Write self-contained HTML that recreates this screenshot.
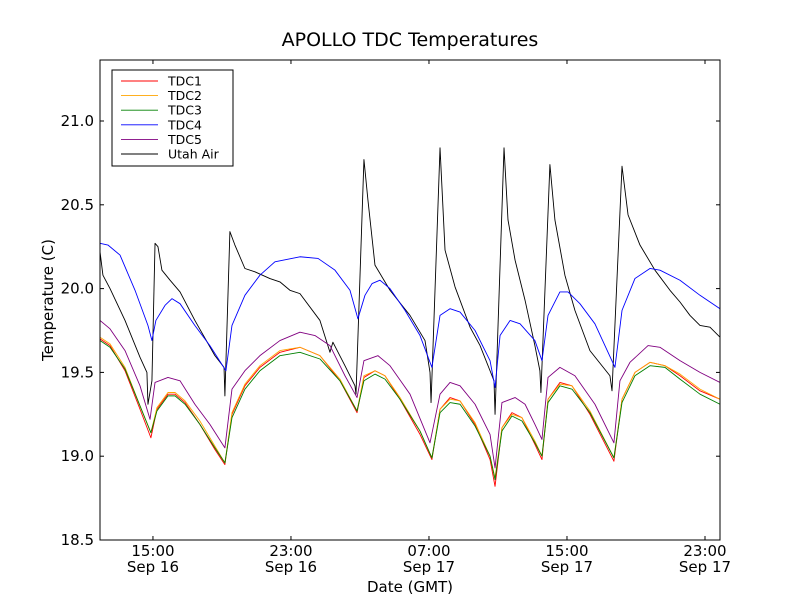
<!DOCTYPE html>
<html><head><meta charset="utf-8"><style>
html,body{margin:0;padding:0;background:#fff;}
svg{display:block;font-family:"DejaVu Sans","Liberation Sans",sans-serif;}
</style></head><body>
<svg id="chart" width="800" height="600" viewBox="0 0 800 600">
<rect x="0" y="0" width="800" height="600" fill="#fff"/>
<text x="410" y="46" text-anchor="middle" font-size="19">APOLLO TDC Temperatures</text>
<g id="series"></g>
<rect x="100" y="60" width="620" height="480" fill="none" stroke="#000" stroke-width="1"/>
<g id="axes"></g>
<text x="410" y="592" text-anchor="middle" font-size="15">Date (GMT)</text>
<text transform="translate(53,300) rotate(-90)" text-anchor="middle" font-size="15">Temperature (C)</text>
<g id="legend"></g>
</svg>
<script>
// time in hours from Sep 16 00:00 GMT
const xDomain = [11.93, 47.87];
const yDomain = [18.5, 21.364];
const yTicks = [18.5, 19.0, 19.5, 20.0, 20.5, 21.0];
const yTickLabels = ["18.5", "19.0", "19.5", "20.0", "20.5", "21.0"];
const xTicks = [15, 23, 31, 39, 47];
const xTickTimes = ["15:00", "23:00", "07:00", "15:00", "23:00"];
const xTickDates = ["Sep 16", "Sep 16", "Sep 17", "Sep 17", "Sep 17"];
const seriesNames = ["TDC1", "TDC2", "TDC3", "TDC4", "TDC5", "Utah Air"];
const seriesColors = ["#ff0000", "#ffa500", "#008000", "#0000ff", "#800080", "#000000"];

const tdcTimes = [11.93,12.51,13.38,14.25,14.88,15.23,15.87,16.28,16.86,17.72,18.59,19.17,19.58,20.33,21.20,22.36,23.52,24.68,25.84,26.83,27.23,27.87,28.45,29.32,30.48,31.17,31.64,32.22,32.80,33.67,34.54,34.83,35.23,35.81,36.39,37.14,37.55,37.90,38.59,39.29,40.33,41.72,42.19,42.94,43.81,44.68,45.55,46.71,47.87];
const tdc1Values = [19.70,19.66,19.51,19.28,19.11,19.28,19.37,19.37,19.32,19.19,19.04,18.95,19.25,19.42,19.53,19.62,19.65,19.60,19.45,19.26,19.47,19.51,19.48,19.34,19.13,18.98,19.28,19.35,19.33,19.19,18.98,18.82,19.17,19.26,19.23,19.07,18.98,19.34,19.44,19.42,19.25,18.97,19.34,19.50,19.56,19.54,19.48,19.39,19.34];
const tdc2Values = [19.71,19.67,19.53,19.30,19.14,19.29,19.38,19.38,19.33,19.21,19.06,18.96,19.26,19.43,19.54,19.63,19.65,19.60,19.46,19.27,19.48,19.51,19.48,19.35,19.15,18.99,19.28,19.34,19.33,19.20,19.00,18.87,19.17,19.25,19.23,19.09,19.00,19.34,19.43,19.42,19.27,18.99,19.34,19.50,19.56,19.54,19.49,19.40,19.34];
const tdc3Values = [19.69,19.65,19.52,19.30,19.14,19.27,19.36,19.36,19.31,19.19,19.05,18.96,19.23,19.40,19.51,19.60,19.62,19.58,19.45,19.27,19.45,19.49,19.46,19.34,19.15,18.99,19.26,19.32,19.31,19.18,19.00,18.86,19.15,19.24,19.21,19.08,19.00,19.32,19.42,19.40,19.26,18.99,19.32,19.48,19.54,19.53,19.46,19.37,19.31];

const tdc4Times = [11.93,12.39,13.09,13.96,14.71,14.94,15.17,15.70,16.10,16.57,17.43,18.30,19.23,19.58,20.33,21.20,22.07,23.52,24.57,25.55,26.42,26.88,27.29,27.70,28.16,28.74,29.61,30.48,31.17,31.64,32.22,32.80,33.67,34.54,34.83,35.12,35.70,36.28,37.14,37.55,37.90,38.59,39.06,39.75,40.62,41.78,42.19,42.94,43.81,44.39,45.55,46.71,47.87];
const tdc4Values = [20.27,20.26,20.20,19.99,19.78,19.69,19.81,19.90,19.94,19.91,19.78,19.66,19.51,19.78,19.96,20.08,20.16,20.19,20.18,20.11,19.99,19.82,19.96,20.03,20.05,20.00,19.87,19.72,19.53,19.84,19.88,19.86,19.75,19.57,19.41,19.72,19.81,19.79,19.69,19.57,19.84,19.98,19.98,19.91,19.79,19.53,19.87,20.06,20.12,20.11,20.05,19.96,19.88];

const tdc5Times = [11.93,12.51,13.38,14.25,14.83,15.12,15.87,16.57,17.43,18.30,19.17,19.58,20.33,21.20,22.36,23.52,24.39,25.26,26.13,26.83,27.23,28.04,28.74,29.90,31.06,31.64,32.22,32.80,33.67,34.54,34.83,35.23,35.99,36.57,37.14,37.55,37.90,38.59,39.46,40.62,41.72,42.07,42.65,43.70,44.39,45.55,46.71,47.87];
const tdc5Values = [19.81,19.76,19.63,19.42,19.22,19.44,19.47,19.45,19.31,19.19,19.05,19.40,19.51,19.60,19.69,19.74,19.72,19.66,19.48,19.35,19.57,19.60,19.54,19.37,19.08,19.37,19.44,19.42,19.31,19.13,18.93,19.32,19.35,19.31,19.19,19.10,19.47,19.53,19.48,19.31,19.08,19.45,19.56,19.66,19.65,19.57,19.50,19.44];

const airTimes = [11.93,12.10,12.51,13.38,14.25,14.65,14.71,14.94,15.12,15.29,15.52,15.99,16.57,17.43,18.59,19.12,19.17,19.46,19.75,20.33,20.91,21.78,22.36,22.94,23.52,24.68,25.26,25.43,26.13,26.71,26.77,27.23,27.46,27.87,28.74,29.90,30.77,31.06,31.12,31.64,31.93,32.51,33.38,33.96,34.54,34.77,34.83,35.35,35.58,35.99,36.57,37.14,37.43,37.49,38.01,38.30,38.88,39.46,40.33,41.49,41.61,42.19,42.54,43.23,44.10,44.97,45.55,46.13,46.71,47.29,47.87];
const airValues = [20.22,20.08,20.00,19.81,19.59,19.50,19.31,19.45,20.27,20.25,20.11,20.05,19.98,19.81,19.60,19.53,19.36,20.34,20.26,20.12,20.10,20.06,20.04,19.99,19.97,19.81,19.62,19.68,19.54,19.42,19.37,20.77,20.53,20.14,19.99,19.84,19.69,19.50,19.32,20.84,20.23,20.01,19.77,19.66,19.51,19.45,19.25,20.84,20.41,20.17,19.93,19.66,19.51,19.38,20.74,20.41,20.08,19.87,19.63,19.48,19.39,20.73,20.44,20.26,20.11,19.99,19.92,19.84,19.78,19.77,19.71];

const PL = 100, PR = 720, PT = 60, PB = 540;
function xs(t){ return PL + (t - xDomain[0]) / (xDomain[1] - xDomain[0]) * (PR - PL); }
function ys(v){ return PB - (v - yDomain[0]) / (yDomain[1] - yDomain[0]) * (PB - PT); }
const NS = "http://www.w3.org/2000/svg";
function mk(tag, attrs){ const e = document.createElementNS(NS, tag); for (const k in attrs) e.setAttribute(k, attrs[k]); return e; }

const seriesData = [[tdcTimes, tdc1Values],[tdcTimes, tdc2Values],[tdcTimes, tdc3Values],[tdc4Times, tdc4Values],[tdc5Times, tdc5Values],[airTimes, airValues]];
const sg = document.getElementById('series');
const drawOrder = [5, 3, 4, 0, 1, 2];
drawOrder.forEach(function(i){
  const t = seriesData[i][0], v = seriesData[i][1];
  const pts = t.map(function(tt, k){ return xs(tt).toFixed(2) + ',' + ys(v[k]).toFixed(2); }).join(' ');
  const pl = mk('polyline', {points: pts, fill: 'none', stroke: seriesColors[i], 'stroke-width': 0.9, 'stroke-linejoin': 'round'});
  
  
  sg.appendChild(pl);
});

const ag = document.getElementById('axes');
yTicks.forEach(function(v, i){
  const y = ys(v);
  const t1 = mk('line', {x1: PL, x2: PL + 4, y1: y, y2: y, stroke: '#000'});
  
  
  ag.appendChild(t1);
  const t2 = mk('line', {x1: PR - 4, x2: PR, y1: y, y2: y, stroke: '#000'});
  
  
  ag.appendChild(t2);
  const lb = mk('text', {x: 94, y: y + 5, 'text-anchor': 'end', 'font-size': 15});
  lb.textContent = yTickLabels[i];
  
  
  ag.appendChild(lb);
});
xTicks.forEach(function(t, i){
  const x = xs(t);
  const t1 = mk('line', {x1: x, x2: x, y1: PB, y2: PB - 4, stroke: '#000'});
  
  
  ag.appendChild(t1);
  const t2 = mk('line', {x1: x, x2: x, y1: PT, y2: PT + 4, stroke: '#000'});
  
  
  ag.appendChild(t2);
  const l1 = mk('text', {x: x, y: 556, 'text-anchor': 'middle', 'font-size': 15});
  l1.textContent = xTickTimes[i];
  
  
  ag.appendChild(l1);
  const l2 = mk('text', {x: x, y: 572, 'text-anchor': 'middle', 'font-size': 15});
  l2.textContent = xTickDates[i];
  
  
  ag.appendChild(l2);
});

const lg = document.getElementById('legend');
const box = mk('rect', {x: 112, y: 70, width: 121, height: 96, fill: '#fff', stroke: '#000', 'stroke-width': 1});


lg.appendChild(box);
seriesNames.forEach(function(n, i){
  const y = 81 + i * 14.6;
  const ln = mk('line', {x1: 121, x2: 158, y1: y, y2: y, stroke: seriesColors[i], 'stroke-width': 0.9});
  
  
  lg.appendChild(ln);
  const tx = mk('text', {x: 168, y: y + 4.5, 'font-size': 12.5});
  tx.textContent = n;
  
  
  lg.appendChild(tx);
});
</script>
</body></html>
